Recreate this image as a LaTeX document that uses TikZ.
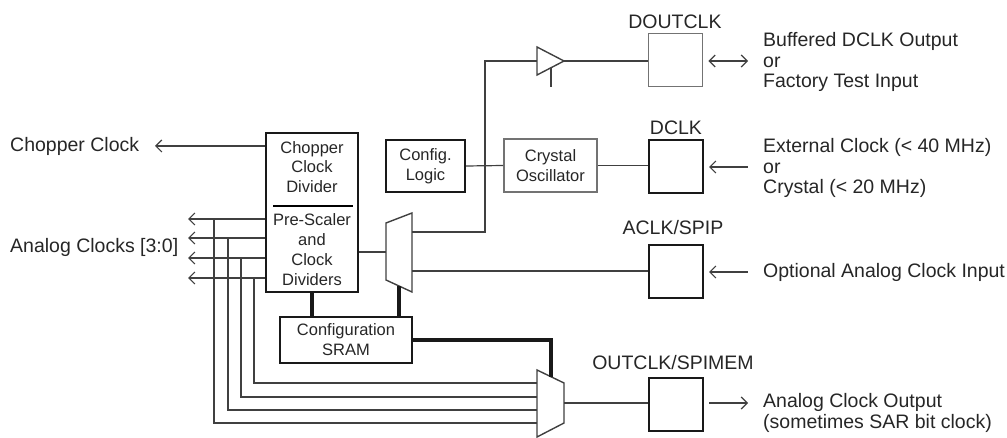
\documentclass[tikz,border=0pt]{standalone}
\usepackage{fontspec}
\setmainfont{Liberation Sans}
\usetikzlibrary{arrows.meta}
\begin{document}
\begin{tikzpicture}[x=1pt,y=-1pt,
  openhead/.tip={Straight Barb[length=6pt,width=12pt]},
  wire/.style={line width=1.2pt,draw=black!75},
  bus/.style={line width=3.5pt,draw=black!90},
  blk/.style={draw=black!90,line width=2pt,inner sep=0pt},
  gblk/.style={draw=black!55,line width=1.6pt,inner sep=0pt},
  pinbox/.style={blk,minimum width=54pt,minimum height=53pt},
  mux/.style={draw=black!75,line width=1.4pt,fill=white},
  intxt/.style={font=\fontsize{16.5}{19.8}\selectfont,align=center,inner sep=0pt,text=black!85},
  outtxt/.style={font=\fontsize{19.5}{20.5}\selectfont,align=left,inner sep=0pt,text=black!85},
]
  \useasboundingbox (0,0) rectangle (1007,438);
  % dividers block
  \node[blk,minimum width=92pt,minimum height=159pt] (div) at (312,212.5) {};
  \node[intxt] (divtop) at (312,167) {Chopper\\Clock\\Divider};
  \node[intxt] (divbot) at (312,249.5) {Pre-Scaler\\and\\Clock\\Dividers};
  \draw[line width=2pt] (273,206) -- (353,206);
  \node[blk,intxt,minimum width=132pt,minimum height=46pt] (sram) at (346,340) {Configuration\\SRAM};
  \node[blk,intxt,minimum width=79pt,minimum height=52pt] (cfg) at (425.5,166) {Config.\\Logic};
  \node[gblk,intxt,minimum width=93pt,minimum height=53pt] (xtal) at (550.5,165.5) {Crystal\\Oscillator};
  % pins
  \node[pinbox,draw=black!55,line width=1.6pt] (dout) at (675.5,60) {};
  \node[pinbox] (dclk) at (676,166.5) {};
  \node[pinbox] (aclk) at (676,271.5) {};
  \node[pinbox] (oclk) at (676,404) {};
  \node[outtxt] (doutlbl) at (675,22) {DOUTCLK};
  \node[outtxt] (dclklbl) at (676,128) {DCLK};
  \node[outtxt] (aclklbl) at (673,228) {ACLK/SPIP};
  \node[outtxt] (oclklbl) at (673,363) {OUTCLK/SPIMEM};
  % muxes and buffer
  \draw[mux] (386,223) -- (412,213) -- (412,292) -- (386,280) -- cycle;
  \coordinate (muxaout) at (386,252);
  \coordinate (muxain1) at (412,232);
  \coordinate (muxain2) at (412,271);
  \coordinate (muxasel) at (399,286);
  \draw[mux] (537,370) -- (564,383) -- (564,423) -- (537,437) -- cycle;
  \coordinate (muxbout) at (564,403);
  \coordinate (muxbsel) at (551,377);
  \draw[mux] (537,47) -- (564,61) -- (537,75) -- cycle;
  \coordinate (bufin) at (537,61);
  \coordinate (bufout) at (564,61);
  \coordinate (bufen) at (551,68);
  \coordinate (bufenend) at (551,87);
  % left side
  \node[outtxt,anchor=west] (choptxt) at (10,146) {Chopper Clock};
  \node[outtxt,anchor=west] (anatxt) at (10,247) {Analog Clocks [3:0]};
  \coordinate (chopend) at (155,146);
  \draw[wire,-openhead] (div.west |- chopend) -- (chopend);
  \foreach \i/\ya/\xv/\yb in {1/219/214/423,2/238/228/410,3/258/241/397,4/278/254/383} {
    \coordinate (ana\i) at (188,\ya);
    \coordinate (tap\i) at (\xv,\ya);
    \coordinate (muxbin\i) at (537,\yb);
    \draw[wire,-openhead] (div.west |- ana\i) -- (ana\i);
    \draw[wire] (tap\i) |- (muxbin\i);
  }
  % wiring
  \draw[wire] (div.east |- muxaout) -- (muxaout);
  \draw[bus] (div.south) -- (div.south |- sram.north);
  \draw[bus] (muxasel) -- (muxasel |- sram.north);
  \draw[bus] (sram.east) -| (muxbsel);
  \draw[wire] (muxain1) -- ++(73,0) |- (bufin);
  \draw[wire] (bufout) -- (dout.west |- bufout);
  \draw[wire] (bufen) -- (bufenend);
  \draw[wire] (cfg.east) -- (xtal.west);
  \draw[wire] (xtal.east) -- (xtal.east -| dclk.west);
  \draw[wire] (muxain2) -- (muxain2 -| aclk.west);
  \draw[wire] (muxbout) -- (muxbout -| oclk.west);
  % right side
  \coordinate (doutend) at (748,61);
  \coordinate (dclkend) at (748,167);
  \coordinate (aclkend) at (748,272);
  \coordinate (oclkend) at (748,403);
  \draw[wire,openhead-openhead] ([xshift=5pt]dout.east |- doutend) -- (doutend);
  \draw[wire,openhead-] ([xshift=5pt]dclk.east |- dclkend) -- (dclkend);
  \draw[wire,openhead-] ([xshift=5pt]aclk.east |- aclkend) -- (aclkend);
  \draw[wire,-openhead] ([xshift=5pt]oclk.east |- oclkend) -- (oclkend);
  \node[outtxt,anchor=west] (douttxt) at (763,62) {Buffered DCLK Output\\or\\Factory Test Input};
  \node[outtxt,anchor=west] (dclktxt) at (763,168) {External Clock (< 40 MHz)\\or\\Crystal (< 20 MHz)};
  \node[outtxt,anchor=west] (aclktxt) at (763,272) {Optional Analog Clock Input};
  \node[outtxt,anchor=west] (oclktxt) at (763,413) {Analog Clock Output\\(sometimes SAR bit clock)};
\end{tikzpicture}
\end{document}
